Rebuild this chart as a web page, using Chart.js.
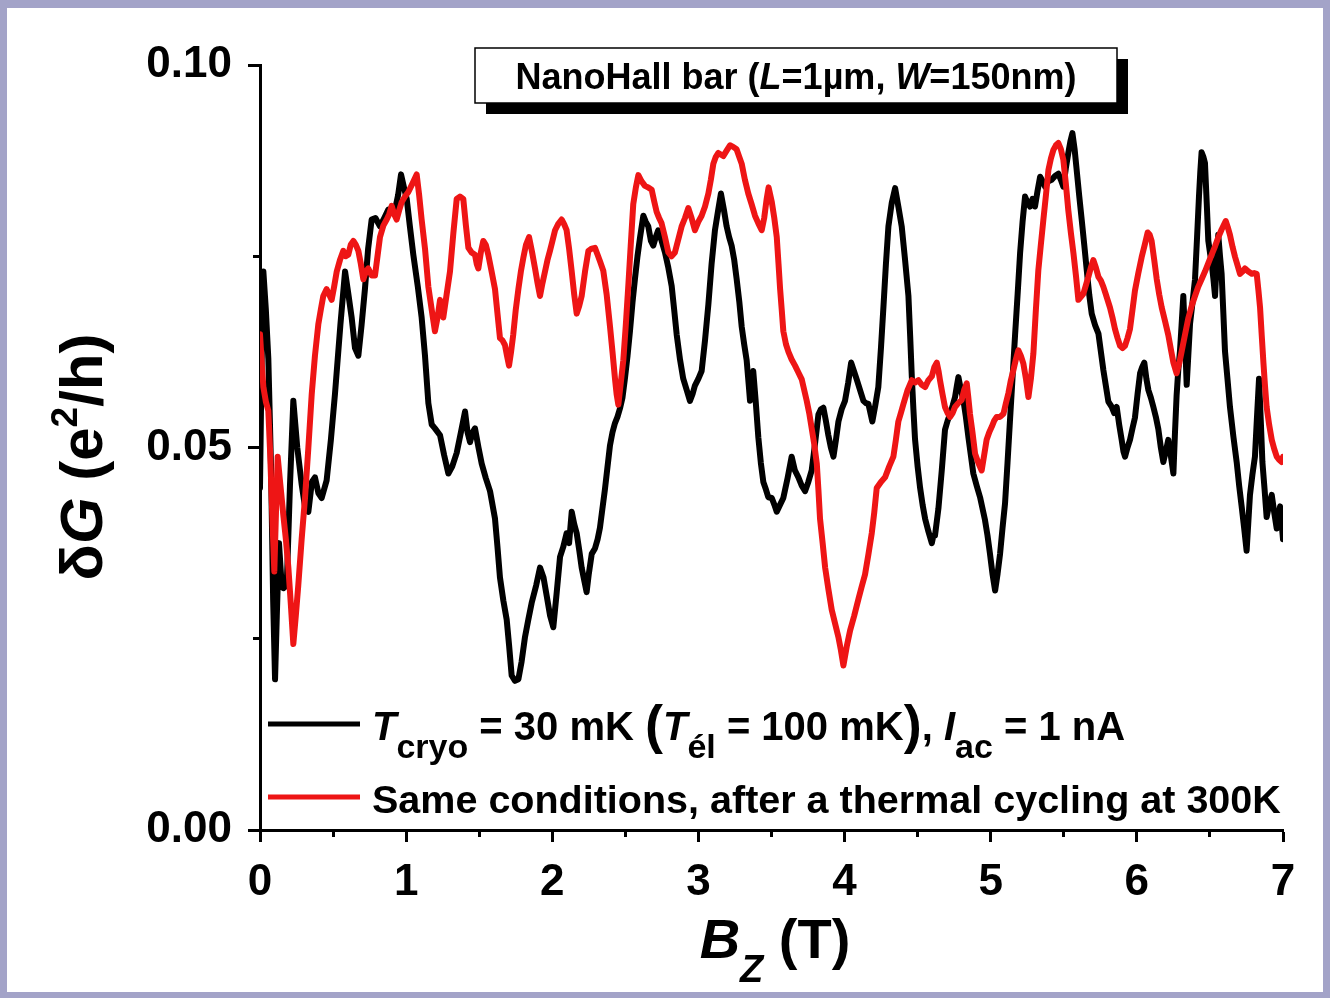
<!DOCTYPE html>
<html>
<head>
<meta charset="utf-8">
<script src="https://cdn.jsdelivr.net/npm/chart.js@4.4.1/dist/chart.umd.min.js"></script>
<style>
  html, body { margin: 0; padding: 0; }
  body { width: 1330px; height: 998px; background: #a3a3c8; position: relative; overflow: hidden; }
  #frame { position: absolute; left: 7px; top: 8px; width: 1316px; height: 984px; background: #fff; }
</style>
</head>
<body>
<div id="frame"><canvas id="chart" width="1316" height="984"></canvas></div>
<script>
// B_z (T) and dG (e^2/h), first cool-down
const blackB = [
  0.000, 0.010, 0.023, 0.040, 0.057, 0.075, 0.090, 0.103, 0.115, 0.130, 0.145, 0.160, 0.183, 0.205, 0.228, 0.255,
  0.285, 0.310, 0.331, 0.355, 0.376, 0.400, 0.422, 0.456, 0.485, 0.513, 0.550, 0.582, 0.605, 0.627, 0.650, 0.673,
  0.695, 0.718, 0.740, 0.764, 0.790, 0.821, 0.850, 0.878, 0.924, 0.945, 0.965, 0.985, 1.004, 1.025, 1.049, 1.080,
  1.106, 1.129, 1.152, 1.175, 1.197, 1.232, 1.260, 1.289, 1.315, 1.346, 1.375, 1.403, 1.420, 1.437, 1.455, 1.471,
  1.495, 1.517, 1.545, 1.574, 1.608, 1.625, 1.642, 1.665, 1.688, 1.705, 1.722, 1.745, 1.768, 1.790, 1.813, 1.836,
  1.859, 1.890, 1.916, 1.940, 1.962, 1.985, 2.007, 2.030, 2.053, 2.075, 2.098, 2.115, 2.133, 2.150, 2.167, 2.185,
  2.201, 2.220, 2.235, 2.250, 2.270, 2.292, 2.310, 2.326, 2.343, 2.360, 2.378, 2.395, 2.412, 2.429, 2.446, 2.463,
  2.480, 2.497, 2.515, 2.532, 2.549, 2.566, 2.583, 2.600, 2.623, 2.640, 2.657, 2.675, 2.691, 2.708, 2.725, 2.748,
  2.771, 2.794, 2.817, 2.834, 2.851, 2.874, 2.896, 2.920, 2.942, 2.960, 2.976, 3.000, 3.022, 3.045, 3.068, 3.090,
  3.113, 3.135, 3.154, 3.175, 3.193, 3.210, 3.227, 3.245, 3.261, 3.280, 3.296, 3.313, 3.330, 3.345, 3.353, 3.365,
  3.375, 3.392, 3.410, 3.427, 3.444, 3.462, 3.478, 3.502, 3.520, 3.536, 3.558, 3.581, 3.610, 3.638, 3.660, 3.684,
  3.707, 3.730, 3.752, 3.775, 3.798, 3.821, 3.838, 3.855, 3.872, 3.889, 3.906, 3.924, 3.941, 3.958, 3.980, 4.003,
  4.025, 4.045, 4.064, 4.083, 4.106, 4.129, 4.146, 4.163, 4.177, 4.190, 4.210, 4.231, 4.249, 4.266, 4.283, 4.300,
  4.323, 4.346, 4.368, 4.391, 4.414, 4.437, 4.449, 4.460, 4.471, 4.482, 4.500, 4.517, 4.534, 4.551, 4.574, 4.597,
  4.608, 4.619, 4.642, 4.665, 4.687, 4.705, 4.722, 4.740, 4.756, 4.768, 4.779, 4.796, 4.813, 4.830, 4.847, 4.864,
  4.881, 4.904, 4.927, 4.944, 4.961, 4.978, 4.995, 5.012, 5.030, 5.047, 5.064, 5.081, 5.098, 5.115, 5.132, 5.149,
  5.166, 5.184, 5.201, 5.218, 5.235, 5.252, 5.269, 5.286, 5.303, 5.320, 5.338, 5.355, 5.372, 5.395, 5.417, 5.440,
  5.463, 5.480, 5.497, 5.514, 5.531, 5.545, 5.559, 5.574, 5.588, 5.605, 5.623, 5.640, 5.657, 5.674, 5.691, 5.714,
  5.737, 5.754, 5.771, 5.805, 5.828, 5.845, 5.862, 5.879, 5.896, 5.908, 5.919, 5.936, 5.953, 5.970, 5.987, 6.005,
  6.022, 6.036, 6.051, 6.065, 6.079, 6.096, 6.113, 6.130, 6.147, 6.164, 6.181, 6.198, 6.215, 6.232, 6.250, 6.261,
  6.272, 6.283, 6.295, 6.306, 6.318, 6.330, 6.341, 6.352, 6.364, 6.381, 6.398, 6.412, 6.425, 6.434, 6.443, 6.455,
  6.466, 6.478, 6.489, 6.500, 6.512, 6.524, 6.535, 6.546, 6.557, 6.569, 6.580, 6.592, 6.603, 6.620, 6.637, 6.660,
  6.683, 6.700, 6.717, 6.734, 6.751, 6.762, 6.774, 6.791, 6.808, 6.822, 6.836, 6.848, 6.859, 6.874, 6.888, 6.905,
  6.923, 6.940, 6.957, 6.968, 6.980, 6.991, 7.000
];
const blackG = [
  0.0447, 0.0600, 0.0730, 0.0680, 0.0616, 0.0479, 0.0300, 0.0197, 0.0280, 0.0375, 0.0330, 0.0316, 0.0320, 0.0450, 0.0561, 0.0500,
  0.0452, 0.0420, 0.0416, 0.0455, 0.0461, 0.0440, 0.0434, 0.0457, 0.0510, 0.0570, 0.0660, 0.0730, 0.0700, 0.0670, 0.0630, 0.0620,
  0.0660, 0.0707, 0.0760, 0.0798, 0.0800, 0.0789, 0.0800, 0.0811, 0.0811, 0.0830, 0.0857, 0.0840, 0.0825, 0.0790, 0.0752, 0.0710,
  0.0670, 0.0620, 0.0558, 0.0530, 0.0525, 0.0516, 0.0490, 0.0466, 0.0475, 0.0493, 0.0520, 0.0547, 0.0520, 0.0507, 0.0520, 0.0525,
  0.0500, 0.0479, 0.0460, 0.0443, 0.0407, 0.0370, 0.0330, 0.0300, 0.0275, 0.0240, 0.0202, 0.0195, 0.0197, 0.0220, 0.0252, 0.0275,
  0.0297, 0.0320, 0.0343, 0.0330, 0.0306, 0.0280, 0.0265, 0.0310, 0.0357, 0.0370, 0.0388, 0.0375, 0.0416, 0.0400, 0.0388, 0.0365,
  0.0343, 0.0325, 0.0311, 0.0335, 0.0361, 0.0368, 0.0380, 0.0395, 0.0420, 0.0445, 0.0475, 0.0503, 0.0520, 0.0532, 0.0540, 0.0551,
  0.0565, 0.0590, 0.0620, 0.0653, 0.0690, 0.0721, 0.0750, 0.0774, 0.0803, 0.0795, 0.0789, 0.0770, 0.0764, 0.0775, 0.0784, 0.0770,
  0.0755, 0.0735, 0.0711, 0.0680, 0.0648, 0.0615, 0.0590, 0.0575, 0.0561, 0.0570, 0.0581, 0.0590, 0.0600, 0.0640, 0.0687, 0.0740,
  0.0784, 0.0810, 0.0832, 0.0810, 0.0789, 0.0775, 0.0764, 0.0745, 0.0721, 0.0690, 0.0658, 0.0635, 0.0614, 0.0580, 0.0561, 0.0590,
  0.0600, 0.0560, 0.0513, 0.0480, 0.0455, 0.0445, 0.0435, 0.0434, 0.0425, 0.0416, 0.0425, 0.0434, 0.0460, 0.0488, 0.0470, 0.0461,
  0.0450, 0.0443, 0.0455, 0.0470, 0.0505, 0.0543, 0.0550, 0.0552, 0.0535, 0.0516, 0.0500, 0.0488, 0.0510, 0.0534, 0.0550, 0.0561,
  0.0585, 0.0611, 0.0600, 0.0589, 0.0575, 0.0561, 0.0558, 0.0557, 0.0545, 0.0534, 0.0555, 0.0579, 0.0630, 0.0684, 0.0740, 0.0789,
  0.0820, 0.0839, 0.0815, 0.0789, 0.0745, 0.0698, 0.0645, 0.0593, 0.0550, 0.0511, 0.0475, 0.0447, 0.0425, 0.0407, 0.0390, 0.0375,
  0.0385, 0.0385, 0.0420, 0.0470, 0.0523, 0.0535, 0.0544, 0.0555, 0.0566, 0.0580, 0.0592, 0.0575, 0.0562, 0.0540, 0.0514, 0.0490,
  0.0466, 0.0450, 0.0435, 0.0420, 0.0405, 0.0385, 0.0361, 0.0335, 0.0313, 0.0335, 0.0361, 0.0395, 0.0427, 0.0480, 0.0536, 0.0590,
  0.0645, 0.0700, 0.0754, 0.0795, 0.0828, 0.0820, 0.0815, 0.0825, 0.0815, 0.0835, 0.0854, 0.0848, 0.0841, 0.0848, 0.0850, 0.0855,
  0.0858, 0.0850, 0.0841, 0.0865, 0.0885, 0.0900, 0.0911, 0.0890, 0.0863, 0.0830, 0.0797, 0.0765, 0.0732, 0.0700, 0.0675, 0.0660,
  0.0649, 0.0625, 0.0601, 0.0560, 0.0553, 0.0545, 0.0553, 0.0530, 0.0510, 0.0495, 0.0488, 0.0500, 0.0510, 0.0525, 0.0539, 0.0570,
  0.0597, 0.0605, 0.0611, 0.0590, 0.0575, 0.0565, 0.0553, 0.0540, 0.0524, 0.0500, 0.0481, 0.0495, 0.0510, 0.0490, 0.0466, 0.0520,
  0.0568, 0.0600, 0.0626, 0.0660, 0.0698, 0.0640, 0.0582, 0.0620, 0.0662, 0.0690, 0.0720, 0.0775, 0.0828, 0.0860, 0.0886, 0.0880,
  0.0872, 0.0820, 0.0770, 0.0755, 0.0741, 0.0720, 0.0698, 0.0740, 0.0778, 0.0750, 0.0727, 0.0675, 0.0626, 0.0590, 0.0553, 0.0515,
  0.0481, 0.0450, 0.0423, 0.0395, 0.0365, 0.0400, 0.0438, 0.0465, 0.0488, 0.0540, 0.0590, 0.0535, 0.0481, 0.0445, 0.0409, 0.0425,
  0.0438, 0.0415, 0.0394, 0.0410, 0.0423, 0.0400, 0.0380
];

// after thermal cycling at 300 K
const redB = [
  0.000, 0.012, 0.023, 0.040, 0.057, 0.068, 0.080, 0.090, 0.098, 0.110, 0.121, 0.140, 0.160, 0.177, 0.194, 0.211,
  0.228, 0.245, 0.262, 0.285, 0.308, 0.331, 0.354, 0.376, 0.399, 0.416, 0.433, 0.456, 0.473, 0.490, 0.507, 0.525,
  0.547, 0.570, 0.587, 0.604, 0.621, 0.639, 0.656, 0.673, 0.690, 0.707, 0.724, 0.741, 0.764, 0.787, 0.804, 0.821,
  0.844, 0.867, 0.884, 0.901, 0.918, 0.935, 0.952, 0.970, 0.992, 1.015, 1.043, 1.072, 1.089, 1.106, 1.129, 1.152,
  1.175, 1.197, 1.215, 1.232, 1.243, 1.254, 1.277, 1.300, 1.323, 1.346, 1.368, 1.391, 1.409, 1.426, 1.448, 1.471,
  1.483, 1.494, 1.511, 1.528, 1.545, 1.562, 1.585, 1.608, 1.625, 1.642, 1.659, 1.676, 1.690, 1.704, 1.718, 1.733,
  1.750, 1.768, 1.785, 1.802, 1.820, 1.841, 1.862, 1.882, 1.899, 1.916, 1.933, 1.950, 1.967, 1.984, 2.001, 2.019,
  2.040, 2.064, 2.081, 2.098, 2.115, 2.133, 2.150, 2.167, 2.184, 2.201, 2.224, 2.247, 2.270, 2.292, 2.310, 2.327,
  2.349, 2.372, 2.395, 2.412, 2.429, 2.440, 2.452, 2.469, 2.486, 2.503, 2.520, 2.537, 2.554, 2.572, 2.589, 2.611,
  2.634, 2.657, 2.680, 2.697, 2.714, 2.731, 2.748, 2.771, 2.794, 2.816, 2.839, 2.862, 2.885, 2.908, 2.931, 2.953,
  2.976, 2.999, 3.022, 3.045, 3.068, 3.085, 3.102, 3.119, 3.136, 3.153, 3.170, 3.193, 3.216, 3.238, 3.261, 3.279,
  3.296, 3.318, 3.341, 3.364, 3.387, 3.410, 3.433, 3.450, 3.467, 3.480, 3.502, 3.519, 3.536, 3.548, 3.559, 3.570,
  3.581, 3.599, 3.616, 3.638, 3.661, 3.684, 3.707, 3.724, 3.741, 3.758, 3.775, 3.792, 3.810, 3.821, 3.832, 3.850,
  3.867, 3.889, 3.912, 3.935, 3.958, 3.975, 3.992, 4.015, 4.038, 4.066, 4.095, 4.117, 4.140, 4.163, 4.186, 4.203,
  4.220, 4.249, 4.277, 4.305, 4.334, 4.351, 4.368, 4.385, 4.403, 4.431, 4.460, 4.483, 4.505, 4.528, 4.551, 4.574,
  4.597, 4.614, 4.631, 4.643, 4.653, 4.670, 4.687, 4.705, 4.722, 4.739, 4.756, 4.778, 4.801, 4.818, 4.836, 4.847,
  4.858, 4.875, 4.893, 4.915, 4.938, 4.955, 4.972, 4.990, 5.007, 5.024, 5.041, 5.064, 5.087, 5.104, 5.121, 5.138,
  5.155, 5.172, 5.189, 5.206, 5.223, 5.241, 5.258, 5.275, 5.292, 5.309, 5.326, 5.343, 5.360, 5.378, 5.395, 5.412,
  5.429, 5.446, 5.463, 5.480, 5.497, 5.514, 5.531, 5.549, 5.566, 5.583, 5.600, 5.617, 5.634, 5.651, 5.668, 5.685,
  5.702, 5.720, 5.737, 5.754, 5.771, 5.788, 5.816, 5.833, 5.850, 5.868, 5.885, 5.902, 5.919, 5.936, 5.953, 5.970,
  5.987, 6.010, 6.033, 6.054, 6.074, 6.088, 6.101, 6.119, 6.136, 6.153, 6.170, 6.193, 6.215, 6.233, 6.250, 6.272,
  6.290, 6.307, 6.330, 6.352, 6.375, 6.398, 6.420, 6.443, 6.466, 6.489, 6.512, 6.535, 6.558, 6.580, 6.608, 6.622,
  6.637, 6.655, 6.672, 6.689, 6.706, 6.723, 6.740, 6.763, 6.786, 6.803, 6.820, 6.832, 6.843, 6.855, 6.866, 6.877,
  6.888, 6.905, 6.923, 6.940, 6.957, 6.974, 6.991, 7.000
];
const redG = [
  0.0648, 0.0610, 0.0579, 0.0560, 0.0548, 0.0500, 0.0434, 0.0380, 0.0338, 0.0420, 0.0488, 0.0450, 0.0411, 0.0380, 0.0343, 0.0295,
  0.0243, 0.0280, 0.0320, 0.0380, 0.0434, 0.0500, 0.0570, 0.0620, 0.0661, 0.0680, 0.0698, 0.0707, 0.0700, 0.0693, 0.0710, 0.0730,
  0.0745, 0.0757, 0.0750, 0.0752, 0.0765, 0.0770, 0.0765, 0.0757, 0.0740, 0.0720, 0.0730, 0.0734, 0.0725, 0.0725, 0.0750, 0.0775,
  0.0790, 0.0798, 0.0805, 0.0816, 0.0805, 0.0798, 0.0810, 0.0821, 0.0828, 0.0834, 0.0845, 0.0857, 0.0830, 0.0798, 0.0760, 0.0710,
  0.0680, 0.0652, 0.0670, 0.0693, 0.0680, 0.0670, 0.0700, 0.0730, 0.0780, 0.0825, 0.0828, 0.0825, 0.0790, 0.0761, 0.0755, 0.0752,
  0.0740, 0.0734, 0.0755, 0.0770, 0.0765, 0.0752, 0.0730, 0.0707, 0.0675, 0.0643, 0.0640, 0.0634, 0.0620, 0.0607, 0.0625, 0.0648,
  0.0680, 0.0707, 0.0730, 0.0748, 0.0765, 0.0775, 0.0755, 0.0734, 0.0715, 0.0698, 0.0715, 0.0730, 0.0745, 0.0757, 0.0770, 0.0784,
  0.0792, 0.0798, 0.0792, 0.0784, 0.0760, 0.0730, 0.0700, 0.0675, 0.0685, 0.0698, 0.0730, 0.0757, 0.0760, 0.0761, 0.0752, 0.0743,
  0.0731, 0.0700, 0.0658, 0.0625, 0.0590, 0.0570, 0.0556, 0.0585, 0.0614, 0.0660, 0.0711, 0.0765, 0.0818, 0.0840, 0.0856, 0.0848,
  0.0842, 0.0840, 0.0837, 0.0822, 0.0808, 0.0800, 0.0793, 0.0775, 0.0755, 0.0750, 0.0755, 0.0772, 0.0789, 0.0800, 0.0813, 0.0800,
  0.0784, 0.0795, 0.0803, 0.0815, 0.0832, 0.0850, 0.0871, 0.0880, 0.0885, 0.0883, 0.0881, 0.0888, 0.0895, 0.0893, 0.0890, 0.0880,
  0.0871, 0.0850, 0.0832, 0.0818, 0.0803, 0.0793, 0.0784, 0.0800, 0.0825, 0.0840, 0.0821, 0.0800, 0.0775, 0.0740, 0.0707, 0.0680,
  0.0652, 0.0635, 0.0625, 0.0615, 0.0607, 0.0598, 0.0589, 0.0575, 0.0561, 0.0545, 0.0525, 0.0505, 0.0479, 0.0445, 0.0407, 0.0375,
  0.0343, 0.0315, 0.0288, 0.0270, 0.0252, 0.0235, 0.0215, 0.0240, 0.0261, 0.0280, 0.0302, 0.0318, 0.0334, 0.0360, 0.0388, 0.0415,
  0.0447, 0.0455, 0.0461, 0.0475, 0.0488, 0.0510, 0.0534, 0.0545, 0.0557, 0.0575, 0.0588, 0.0585, 0.0588, 0.0582, 0.0579, 0.0588,
  0.0593, 0.0605, 0.0611, 0.0600, 0.0588, 0.0570, 0.0553, 0.0545, 0.0540, 0.0545, 0.0553, 0.0558, 0.0562, 0.0575, 0.0584, 0.0565,
  0.0544, 0.0520, 0.0492, 0.0480, 0.0470, 0.0490, 0.0510, 0.0520, 0.0527, 0.0535, 0.0540, 0.0540, 0.0544, 0.0558, 0.0571, 0.0588,
  0.0601, 0.0615, 0.0627, 0.0620, 0.0610, 0.0590, 0.0566, 0.0590, 0.0623, 0.0680, 0.0732, 0.0765, 0.0797, 0.0830, 0.0863, 0.0878,
  0.0889, 0.0895, 0.0898, 0.0890, 0.0876, 0.0845, 0.0810, 0.0780, 0.0754, 0.0725, 0.0693, 0.0697, 0.0701, 0.0712, 0.0723, 0.0735,
  0.0745, 0.0735, 0.0723, 0.0718, 0.0710, 0.0700, 0.0683, 0.0670, 0.0655, 0.0643, 0.0633, 0.0630, 0.0633, 0.0643, 0.0655, 0.0680,
  0.0705, 0.0728, 0.0749, 0.0765, 0.0781, 0.0778, 0.0770, 0.0745, 0.0720, 0.0700, 0.0683, 0.0665, 0.0647, 0.0628, 0.0611, 0.0597,
  0.0610, 0.0626, 0.0648, 0.0669, 0.0685, 0.0698, 0.0710, 0.0720, 0.0730, 0.0741, 0.0752, 0.0763, 0.0775, 0.0785, 0.0796, 0.0788,
  0.0778, 0.0762, 0.0749, 0.0738, 0.0727, 0.0730, 0.0734, 0.0730, 0.0727, 0.0728, 0.0727, 0.0705, 0.0683, 0.0645, 0.0611, 0.0580,
  0.0553, 0.0530, 0.0510, 0.0498, 0.0488, 0.0484, 0.0481, 0.0488
];

// axis ticks
const bMajor = [0, 1, 2, 3, 4, 5, 6, 7];
const bMinor = [0.5, 1.5, 2.5, 3.5, 4.5, 5.5, 6.5];
const gMajor = [0, 0.05, 0.10];
const gMinor = [0.025, 0.075];

const FAM = '"Liberation Sans", Arial, sans-serif';
const font = (style, size) => `${style} ${size}px ${FAM}`;

function toPoints(xs, ys) {
  return xs.map((x, i) => ({ x, y: ys[i] }));
}

function runsWidth(ctx, runs) {
  let w = 0;
  for (const r of runs) { ctx.font = r.f; w += ctx.measureText(r.t).width; }
  return w;
}

function drawRuns(ctx, runs, x, y) {
  for (const r of runs) {
    ctx.font = r.f;
    ctx.fillText(r.t, x, y + (r.dy || 0));
    x += ctx.measureText(r.t).width;
  }
  return x;
}

// title box, legend and axis titles with sub/superscripts
const decorations = {
  id: 'decorations',
  afterDraw(chart) {
    const ctx = chart.ctx;
    ctx.save();
    ctx.fillStyle = '#000';
    ctx.textAlign = 'left';
    ctx.textBaseline = 'alphabetic';

    // sample box with drop shadow
    const bx = 468, by = 40, bw = 642, bh = 55;
    ctx.fillRect(bx + 11, by + 11, bw, bh);
    ctx.fillStyle = '#fff';
    ctx.fillRect(bx, by, bw, bh);
    ctx.strokeStyle = '#000';
    ctx.lineWidth = 1.5;
    ctx.strokeRect(bx, by, bw, bh);
    ctx.fillStyle = '#000';
    const titleRuns = [
      { t: 'NanoHall bar (', f: font('bold', 36) },
      { t: 'L', f: font('italic bold', 36) },
      { t: '=1µm, ', f: font('bold', 36) },
      { t: 'W', f: font('italic bold', 36) },
      { t: '=150nm)', f: font('bold', 36) }
    ];
    drawRuns(ctx, titleRuns, bx + bw / 2 - runsWidth(ctx, titleRuns) / 2, by + 41);

    // legend
    const sets = chart.data.datasets;
    const rows = [
      { ds: sets[1], y: 716, runs: [
        { t: 'T', f: font('italic bold', 40) },
        { t: 'cryo', f: font('bold', 34), dy: 18 },
        { t: ' = 30 mK ', f: font('bold', 40) },
        { t: '(', f: font('bold', 54), dy: 3 },
        { t: 'T', f: font('italic bold', 40) },
        { t: 'él', f: font('bold', 34), dy: 18 },
        { t: ' = 100 mK', f: font('bold', 40) },
        { t: ')', f: font('bold', 54), dy: 3 },
        { t: ', ', f: font('bold', 40) },
        { t: 'I', f: font('italic bold', 40) },
        { t: 'ac', f: font('bold', 34), dy: 18 },
        { t: ' = 1 nA', f: font('bold', 40) }
      ] },
      { ds: sets[0], y: 789, runs: [
        { t: 'Same conditions, after a thermal cycling at 300K', f: font('bold', 39.5) }
      ] }
    ];
    for (const row of rows) {
      ctx.strokeStyle = row.ds.borderColor;
      ctx.lineWidth = 5;
      ctx.beginPath();
      ctx.moveTo(261, row.y);
      ctx.lineTo(353, row.y);
      ctx.stroke();
      drawRuns(ctx, row.runs, 365, row.y + 16);
    }

    // x axis title
    const xRuns = [
      { t: 'B', f: font('italic bold', 56) },
      { t: 'Z', f: font('italic bold', 38), dy: 24 },
      { t: ' (T)', f: font('bold', 56) }
    ];
    drawRuns(ctx, xRuns, 768 - runsWidth(ctx, xRuns) / 2, 950);

    // y axis title
    const yRuns = [
      { t: 'δ', f: font('bold', 60) },
      { t: 'G', f: font('italic bold', 60) },
      { t: ' (e', f: font('bold', 60) },
      { t: '2', f: font('bold', 37), dy: -25 },
      { t: '/h)', f: font('bold', 60) }
    ];
    ctx.translate(73, 449);
    ctx.rotate(-Math.PI / 2);
    drawRuns(ctx, yRuns, -runsWidth(ctx, yRuns) / 2, 22);
    ctx.restore();
  }
};

const tickFont = { family: FAM, size: 44, weight: 'bold' };
const axisGrid = { drawOnChartArea: false, drawTicks: true, tickLength: 12, tickWidth: 3, tickColor: '#000' };
const minorGrid = { drawOnChartArea: false, drawTicks: true, tickLength: 7, tickWidth: 3, tickColor: '#000' };

new Chart(document.getElementById('chart'), {
  type: 'scatter',
  data: {
    datasets: [
      {
        label: 'Same conditions, after a thermal cycling at 300K',
        data: toPoints(redB, redG),
        showLine: true, borderColor: '#ee1515', borderWidth: 6,
        pointRadius: 0, tension: 0, borderJoinStyle: 'round', borderCapStyle: 'round', order: 1
      },
      {
        label: 'T cryo = 30 mK (T él = 100 mK), I ac = 1 nA',
        data: toPoints(blackB, blackG),
        showLine: true, borderColor: '#000', borderWidth: 6,
        pointRadius: 0, tension: 0, borderJoinStyle: 'round', borderCapStyle: 'round', order: 2
      }
    ]
  },
  options: {
    responsive: false,
    animation: false,
    devicePixelRatio: 1,
    layout: { padding: { left: 0, top: 57, right: 40, bottom: 0 } },
    plugins: { legend: { display: false }, tooltip: { enabled: false } },
    scales: {
      x: {
        type: 'linear', position: 'bottom', weight: 10, min: 0, max: 7,
        afterBuildTicks: s => { s.ticks = bMajor.map(value => ({ value })); },
        afterFit: s => { s.height = 162; },
        ticks: { font: tickFont, color: '#000', padding: 14, maxRotation: 0, callback: v => String(v) },
        grid: axisGrid,
        border: { display: true, color: '#000', width: 3 }
      },
      xMinor: {
        type: 'linear', position: 'bottom', weight: 0, min: 0, max: 7,
        afterBuildTicks: s => { s.ticks = bMinor.map(value => ({ value })); },
        afterFit: s => { s.height = 0; },
        ticks: { display: false },
        grid: minorGrid,
        border: { display: false }
      },
      y: {
        type: 'linear', position: 'left', weight: 10, min: 0, max: 0.1,
        afterBuildTicks: s => { s.ticks = gMajor.map(value => ({ value })); },
        afterFit: s => { s.width = 253; },
        ticks: { font: tickFont, color: '#000', padding: 16, callback: v => v.toFixed(2) },
        grid: axisGrid,
        border: { display: true, color: '#000', width: 3 }
      },
      yMinor: {
        type: 'linear', position: 'left', weight: 0, min: 0, max: 0.1,
        afterBuildTicks: s => { s.ticks = gMinor.map(value => ({ value })); },
        afterFit: s => { s.width = 0; },
        ticks: { display: false },
        grid: minorGrid,
        border: { display: false }
      }
    }
  },
  plugins: [decorations]
});
</script>
</body>
</html>
